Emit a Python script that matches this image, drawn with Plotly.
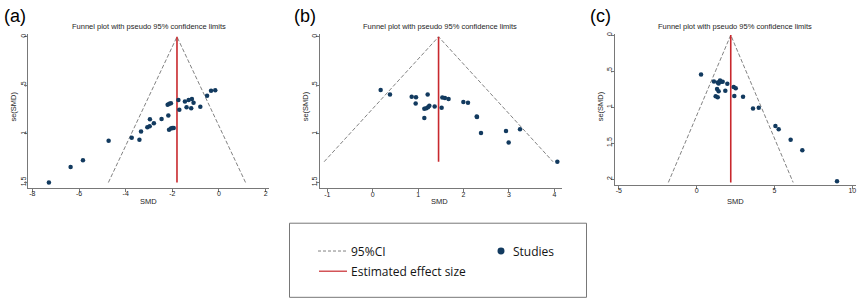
import plotly.graph_objects as go

W, H = 858, 300

# Panel (a)
a_smd = [-7.29, -6.36, -5.83, -4.73, -3.74, -3.41, -3.34, -3.07, -2.97, -2.96, -2.79, -2.46,
         -2.17, -2.14, -2.06, -2.00, -1.94, -2.20, -2.13, -2.06, -1.74, -1.70, -1.46, -1.39,
         -1.30, -1.19, -1.16, -1.09, -0.80, -0.51, -0.34, -0.16]
a_se = [1.50, 1.34, 1.27, 1.07, 1.04, 1.06, 0.975, 0.93, 0.92, 0.85, 0.89, 0.846,
        0.81, 0.958, 0.944, 0.94, 0.94, 0.70, 0.69, 0.685, 0.65, 0.75, 0.665, 0.726,
        0.65, 0.736, 0.64, 0.68, 0.72, 0.607, 0.556, 0.549]
a_effect = -1.80
a_semax = 1.50

# Panel (b)
b_smd = [0.175, 0.38, 0.858, 0.953, 0.946, 1.21, 1.137, 1.18, 1.217, 1.247, 1.364, 1.137,
         1.518, 1.533, 1.59, 1.67, 1.996, 2.098, 2.29, 2.297, 2.385, 2.935, 2.994, 3.244, 4.066]
b_se = [0.548, 0.595, 0.616, 0.622, 0.687, 0.595, 0.741, 0.735, 0.724, 0.711, 0.718, 0.837,
        0.731, 0.626, 0.629, 0.639, 0.67, 0.68, 0.82, 0.826, 0.99, 0.969, 1.088, 0.952, 1.286]
b_effect = 1.45
b_semax = 1.286

# Panel (c)
c_smd = [0.28, 1.11, 1.35, 1.41, 1.50, 1.56, 1.67, 1.97, 1.31, 1.41, 1.84, 2.38, 2.51,
         1.22, 1.35, 2.42, 2.98, 3.62, 3.99, 5.06, 5.27, 6.04, 6.79, 9.02]
c_se = [0.547, 0.644, 0.657, 0.671, 0.63, 0.648, 0.648, 0.676, 0.749, 0.78, 0.772, 0.722, 0.74,
        0.85, 0.864, 0.846, 0.855, 1.02, 1.01, 1.264, 1.306, 1.453, 1.60, 2.03]
c_effect = 2.19
c_semax = 2.046

panel_labels = ["(a)", "(b)", "(c)"]
title_text = "Funnel plot with pseudo 95% confidence limits"
x_ticks = [[-8, -6, -4, -2, 0, 2], [-1, 0, 1, 2, 3, 4], [-5, 0, 5, 10]]
y_ticks = [[0, 0.5, 1, 1.5], [0, 0.5, 1, 1.5], [0, 0.5, 1, 1.5, 2]]
y_ticktext = [["0", ".5", "1", "1.5"], ["0", ".5", "1", "1.5"], ["0", ".5", "1", "1.5", "2"]]
legend_labels = ["95%CI", "Estimated effect size", "Studies"]

panels = [
    dict(smd=a_smd, se=a_se, eff=a_effect, semax=a_semax,
         xpx=(28.3, 269.3), ypx=(32, 187), xr=[-8.173, 2.157], yr=[1.554, -0.031]),
    dict(smd=b_smd, se=b_se, eff=b_effect, semax=b_semax,
         xpx=(320, 561.7), ypx=(32, 187.7), xr=[-1.161, 4.162], yr=[1.561, -0.031]),
    dict(smd=c_smd, se=c_se, eff=c_effect, semax=c_semax,
         xpx=(615, 856), ypx=(32, 184.3), xr=[-5.25, 10.24], yr=[2.083, -0.018]),
]

DASH = "rgb(130,130,130)"
RED = "rgb(200,40,45)"
BLUE = "rgb(18,58,95)"
AX = "rgb(120,120,120)"
TXT = "rgb(30,30,30)"
FONT = "Liberation Sans, Arial, sans-serif"

fig = go.Figure()
layout = dict(width=W, height=H, margin=dict(l=0, r=0, t=0, b=0),
              plot_bgcolor="rgba(0,0,0,0)", paper_bgcolor="white", showlegend=False,
              font=dict(family=FONT, size=7, color=TXT))
annotations = []
shapes = []

for i, p in enumerate(panels):
    n = "" if i == 0 else str(i + 1)
    xa, ya = "x" + n, "y" + n
    eff, semax = p["eff"], p["semax"]
    # 95% pseudo confidence limits
    fig.add_trace(go.Scatter(x=[eff - 1.96 * semax, eff, eff + 1.96 * semax], y=[semax, 0, semax],
                             mode="lines", line=dict(color=DASH, width=1, dash="4px,2px"),
                             xaxis=xa, yaxis=ya, hoverinfo="skip"))
    # Estimated effect
    fig.add_trace(go.Scatter(x=[eff, eff], y=[0, semax], mode="lines",
                             line=dict(color=RED, width=1.6), xaxis=xa, yaxis=ya, hoverinfo="skip"))
    # Studies
    fig.add_trace(go.Scatter(x=p["smd"], y=p["se"], mode="markers",
                             marker=dict(color=BLUE, size=4.5), xaxis=xa, yaxis=ya))
    x0, x1 = p["xpx"]
    y0, y1 = p["ypx"]
    xd = [x0 / W, x1 / W]
    yd = [1 - y1 / H, 1 - y0 / H]
    layout["xaxis" + n] = dict(domain=xd, range=p["xr"], anchor=ya, showgrid=False, zeroline=False,
                               showline=True, linecolor=AX, linewidth=1, ticks="outside",
                               ticklen=3, tickcolor=AX, tickvals=x_ticks[i],
                               ticktext=[str(v) for v in x_ticks[i]], ticklabelstandoff=-4,
                               ticklabeloverflow="allow", tickfont=dict(size=7, color=TXT))
    layout["yaxis" + n] = dict(domain=yd, range=p["yr"], anchor=xa, showgrid=False, zeroline=False,
                               showline=True, linecolor=AX, linewidth=1, ticks="outside",
                               ticklen=3, tickcolor=AX, tickvals=y_ticks[i], ticktext=y_ticktext[i],
                               ticklabeloverflow="allow", tickangle=-90, ticklabelstandoff=-4,
                               tickfont=dict(size=7, color=TXT))
    cx = (x0 + x1) / 2
    if i == 1:
        cx = 440
    if i == 2:
        cx = 735
    annotations.append(dict(text=title_text, x=cx / W, y=1 - 24.5 / H, xref="paper", yref="paper",
                            showarrow=False, font=dict(size=7.5, color=TXT),
                            xanchor="center", yanchor="middle"))
    annotations.append(dict(text="SMD", x=cx / W, y=1 - 201 / H, xref="paper", yref="paper",
                            showarrow=False, font=dict(size=7.5, color=TXT),
                            xanchor="center", yanchor="middle"))
    annotations.append(dict(text="se(SMD)", x=(x0 - 15) / W, y=1 - 105 / H, xref="paper", yref="paper",
                            showarrow=False, textangle=-90, font=dict(size=7.5, color=TXT),
                            xanchor="center", yanchor="middle"))
    lab_x = [15, 305, 600][i]
    annotations.append(dict(text=panel_labels[i], x=lab_x / W, y=1 - 14 / H, xref="paper", yref="paper",
                            showarrow=False, font=dict(size=18, color="black", family=FONT),
                            xanchor="center", yanchor="middle"))

# Legend box
shapes.append(dict(type="rect", xref="paper", yref="paper", x0=289.5 / W, x1=586.5 / W,
                   y0=1 - 297.3 / H, y1=1 - 222.7 / H, line=dict(color="rgb(120,120,120)", width=1),
                   fillcolor="rgba(0,0,0,0)", layer="below"))
shapes.append(dict(type="line", xref="paper", yref="paper", x0=318 / W, x1=347 / W,
                   y0=1 - 250.7 / H, y1=1 - 250.7 / H, line=dict(color=DASH, width=1, dash="3px,2px")))
shapes.append(dict(type="line", xref="paper", yref="paper", x0=319 / W, x1=347 / W,
                   y0=1 - 271 / H, y1=1 - 271 / H, line=dict(color=RED, width=1.2)))
shapes.append(dict(type="circle", xref="paper", yref="paper", x0=497.5 / W, x1=504.5 / W,
                   y0=1 - 254.2 / H, y1=1 - 247.2 / H, line=dict(color=BLUE, width=0),
                   fillcolor=BLUE))
LEGFONT = dict(family="Open Sans, Noto Sans, sans-serif", size=12, color="rgb(20,20,20)")
annotations.append(dict(text=legend_labels[0], x=350 / W, y=1 - 250.7 / H, xref="paper", yref="paper",
                        showarrow=False, xanchor="left", yanchor="middle", font=LEGFONT, borderpad=0))
annotations.append(dict(text=legend_labels[1], x=350 / W, y=1 - 271 / H, xref="paper", yref="paper",
                        showarrow=False, xanchor="left", yanchor="middle", font=LEGFONT, borderpad=0))
annotations.append(dict(text=legend_labels[2], x=512 / W, y=1 - 250.7 / H, xref="paper", yref="paper",
                        showarrow=False, xanchor="left", yanchor="middle", font=LEGFONT, borderpad=0))

layout["annotations"] = annotations
layout["shapes"] = shapes
fig.update_layout(**layout)
fig.write_html("out.html", config={"displayModeBar": False},
               post_script="document.body.style.margin='0';document.body.style.padding='0';")
